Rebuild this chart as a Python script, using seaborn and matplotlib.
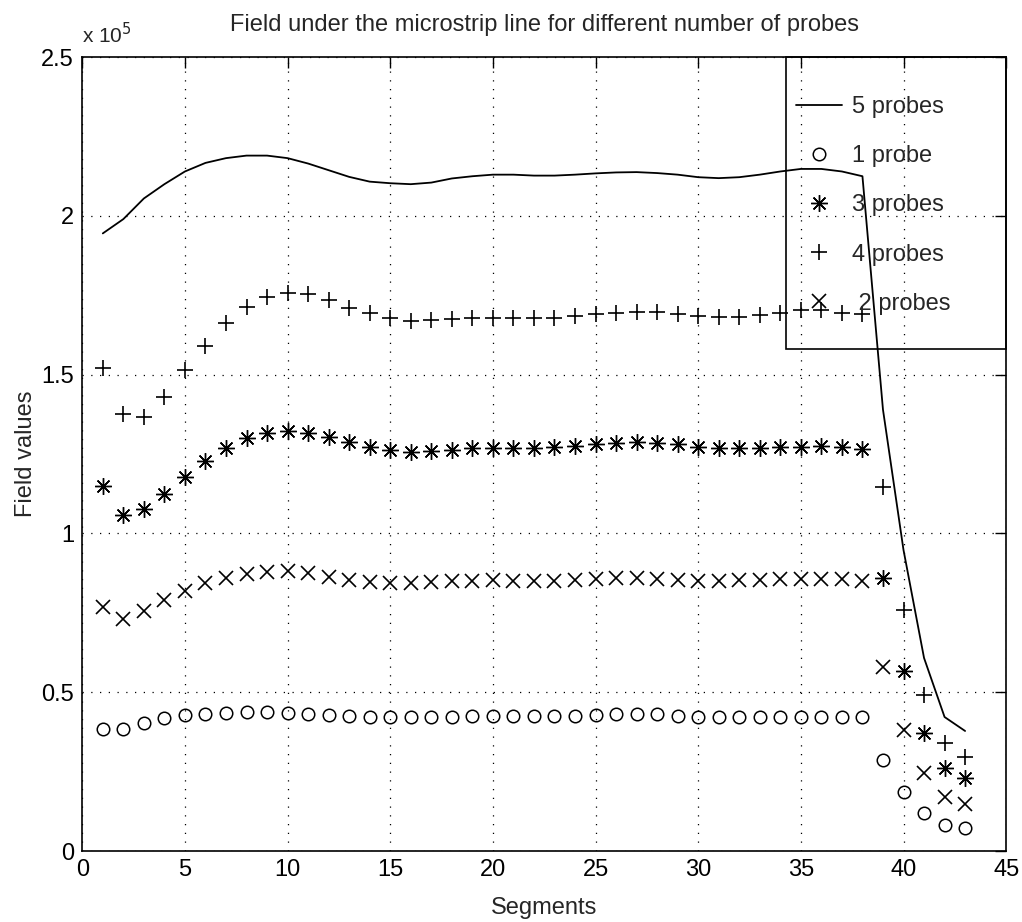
import numpy as np
import pandas as pd
import matplotlib
matplotlib.use("Agg")
import matplotlib.pyplot as plt
from matplotlib.patches import Rectangle
import seaborn as sns

# ---- data (values in units of 1e5) ----
segments = list(range(1, 44))

probes5 = [1.945, 1.99, 2.055, 2.10, 2.14, 2.167, 2.182, 2.19, 2.19, 2.182,
           2.165, 2.144, 2.123, 2.108, 2.103, 2.10, 2.105, 2.118, 2.125, 2.13,
           2.13, 2.127, 2.127, 2.13, 2.134, 2.137, 2.138, 2.135, 2.13, 2.122,
           2.119, 2.122, 2.13, 2.14, 2.148, 2.148, 2.14, 2.125,
           1.39, 0.948, 0.608, 0.422, 0.378]

probes1 = [0.384, 0.384, 0.402, 0.418, 0.428, 0.431, 0.436, 0.439, 0.439, 0.436,
           0.431, 0.428, 0.425, 0.421, 0.421, 0.421, 0.421, 0.423, 0.425, 0.425,
           0.425, 0.425, 0.425, 0.425, 0.427, 0.43, 0.43, 0.43, 0.426, 0.423,
           0.423, 0.423, 0.423, 0.423, 0.423, 0.423, 0.423, 0.423,
           0.287, 0.185, 0.121, 0.082, 0.071]

probes3 = [1.149, 1.058, 1.076, 1.124, 1.179, 1.229, 1.268, 1.30, 1.315, 1.323,
           1.317, 1.303, 1.287, 1.271, 1.263, 1.258, 1.26, 1.263, 1.268, 1.268,
           1.27, 1.27, 1.273, 1.276, 1.282, 1.286, 1.289, 1.286, 1.281, 1.271,
           1.268, 1.268, 1.27, 1.273, 1.273, 1.276, 1.273, 1.266,
           0.859, 0.568, 0.373, 0.26, 0.229]

probes4 = [1.52, 1.376, 1.368, 1.429, 1.515, 1.59, 1.662, 1.714, 1.745, 1.758,
           1.753, 1.735, 1.711, 1.693, 1.677, 1.669, 1.672, 1.675, 1.679, 1.679,
           1.679, 1.677, 1.677, 1.685, 1.691, 1.695, 1.698, 1.696, 1.692, 1.686,
           1.681, 1.681, 1.688, 1.693, 1.703, 1.703, 1.693, 1.691,
           1.145, 0.759, 0.491, 0.341, 0.297]

probes2 = [0.767, 0.73, 0.757, 0.79, 0.82, 0.843, 0.859, 0.872, 0.88, 0.883,
           0.874, 0.864, 0.853, 0.848, 0.843, 0.843, 0.846, 0.85, 0.851, 0.853,
           0.85, 0.85, 0.85, 0.853, 0.856, 0.859, 0.859, 0.856, 0.853, 0.85,
           0.85, 0.853, 0.853, 0.856, 0.857, 0.857, 0.856, 0.85,
           0.578, 0.381, 0.245, 0.169, 0.148]

labels = ["5 probes", "1 probe", "3 probes", "4 probes", " 2 probes"]
xticks = [0, 5, 10, 15, 20, 25, 30, 35, 40, 45]
yticks = [0, 0.5, 1, 1.5, 2, 2.5]
ytick_labels = ["0", "0.5", "1", "1.5", "2", "2.5"]

title = "Field under the microstrip line for different number of probes"
xlabel = "Segments"
ylabel = "Field values"

# ---- style ----
sns.set_style("white")
plt.rcParams["font.family"] = ["Liberation Sans", "DejaVu Sans"]
FS = 17
plt.rcParams["font.size"] = FS

fig = plt.figure(figsize=(10.22, 9.22), dpi=100)
ax = fig.add_axes([0.0805, 0.077, 0.904, 0.861])

df = pd.DataFrame({"seg": segments, "p5": probes5, "p1": probes1,
                   "p3": probes3, "p4": probes4, "p2": probes2})

asterisk = (8, 2, 0)
sns.lineplot(data=df, x="seg", y="p5", ax=ax, color="black", lw=1.3,
             label=labels[0])
sns.lineplot(data=df, x="seg", y="p1", ax=ax, color="black", linestyle="none",
             marker="o", markersize=9, markerfacecolor="none",
             markeredgecolor="black", markeredgewidth=1.1, label=labels[1])
sns.lineplot(data=df, x="seg", y="p3", ax=ax, color="black", linestyle="none",
             marker=asterisk, markersize=12, markeredgecolor="black",
             markeredgewidth=1.0, label=labels[2])
sns.lineplot(data=df, x="seg", y="p4", ax=ax, color="black", linestyle="none",
             marker="+", markersize=11, markeredgecolor="black",
             markeredgewidth=1.2, label=labels[3])
sns.lineplot(data=df, x="seg", y="p2", ax=ax, color="black", linestyle="none",
             marker="x", markersize=9.5, markeredgecolor="black",
             markeredgewidth=1.2, label=labels[4])

ax.set_xlim(0, 45)
ax.set_ylim(0, 2.5)
ax.set_xticks(xticks)
ax.set_xticklabels([str(t) for t in xticks])
ax.set_yticks(yticks)
ax.set_yticklabels(ytick_labels)

ax.grid(True, color="black", linestyle=(0, (1, 6)), linewidth=0.9)
for s in ax.spines.values():
    s.set_visible(True)
    s.set_color("black")
    s.set_linewidth(1.2)
ax.tick_params(direction="in", length=8, width=1, top=True, right=True,
               labelsize=FS, colors="black", pad=6)

ax.set_title(title, fontsize=FS, pad=19)
ax.set_xlabel(xlabel, fontsize=FS, labelpad=11)
ax.set_ylabel(ylabel, fontsize=FS, labelpad=3)
ax.text(0.0, 1.013, r"x 10$^5$", transform=ax.transAxes, fontsize=15,
        ha="left", va="bottom")

# legend (frame drawn separately to mimic asymmetric padding)
leg = ax.legend(loc="upper left", bbox_to_anchor=(0.7725, 0.951),
                frameon=False, fontsize=FS, borderaxespad=0, borderpad=0,
                handlelength=1.95, labelspacing=1.15, handletextpad=0.42)
ax.add_patch(Rectangle((0.7617, 0.6324), 0.2383, 0.3676,
                       transform=ax.transAxes, fill=False,
                       edgecolor="black", linewidth=1.2, zorder=5,
                       clip_on=False))

fig.savefig("out.png", dpi=100)
